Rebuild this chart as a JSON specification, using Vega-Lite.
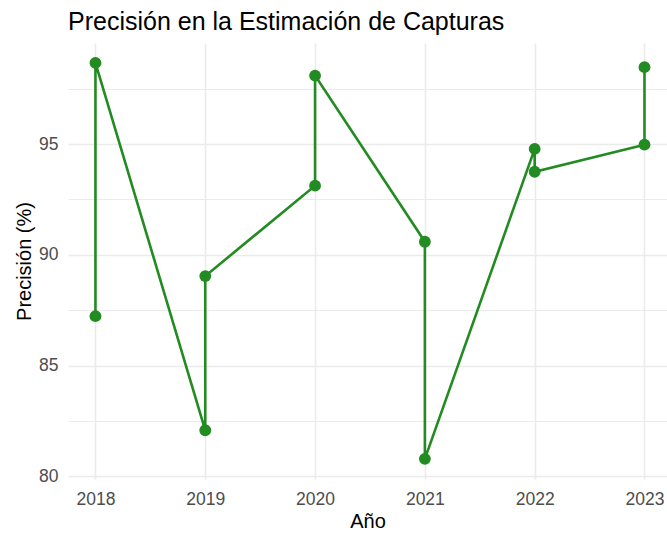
{
  "$schema": "https://vega.github.io/schema/vega-lite/v6.json",
  "autosize": {"type": "none"},
  "padding": {"left": 68, "top": 43, "right": 0, "bottom": 54},
  "width": 599,
  "height": 436,
  "background": "#ffffff",
  "title": {
    "text": "Precisión en la Estimación de Capturas",
    "anchor": "start",
    "frame": "group",
    "font": "Liberation Sans",
    "fontSize": 25,
    "fontWeight": "normal",
    "color": "#000000",
    "offset": 8
  },
  "config": {"view": {"stroke": null}, "font": "Liberation Sans"},
  "data": {
    "values": [
      {"anio": 2018, "precision": 87.23, "i": 1},
      {"anio": 2018, "precision": 98.66, "i": 2},
      {"anio": 2019, "precision": 82.08, "i": 3},
      {"anio": 2019, "precision": 89.04, "i": 4},
      {"anio": 2020, "precision": 93.12, "i": 5},
      {"anio": 2020, "precision": 98.09, "i": 6},
      {"anio": 2021, "precision": 90.59, "i": 7},
      {"anio": 2021, "precision": 80.79, "i": 8},
      {"anio": 2022, "precision": 94.78, "i": 9},
      {"anio": 2022, "precision": 93.75, "i": 10},
      {"anio": 2023, "precision": 94.97, "i": 11},
      {"anio": 2023, "precision": 98.47, "i": 12}
    ]
  },
  "encoding": {
    "x": {
      "field": "anio",
      "type": "quantitative",
      "scale": {"domain": [2017.75, 2023.205], "nice": false, "zero": false},
      "axis": {
        "title": "Año",
        "values": [2018, 2018.5, 2019, 2019.5, 2020, 2020.5, 2021, 2021.5, 2022, 2022.5, 2023],
        "format": "d",
        "labelExpr": "datum.value % 1 === 0 ? datum.label : ''",
        "labelFlush": false,
        "labelOverlap": false,
        "grid": true,
        "gridColor": "#EBEBEB",
        "gridWidth": {"condition": {"test": "datum.value % 1 === 0", "value": 1.6}, "value": 1.2},
        "domain": false,
        "ticks": false,
        "labelPadding": 11,
        "labelFont": "Liberation Sans",
        "labelFontSize": 17.5,
        "labelColor": "#4D4D4D",
        "titleFont": "Liberation Sans",
        "titleFontSize": 20,
        "titleFontWeight": "normal",
        "titleColor": "#000000",
        "titlePadding": 4
      }
    },
    "y": {
      "field": "precision",
      "type": "quantitative",
      "scale": {"domain": [79.88, 99.56], "nice": false, "zero": false},
      "axis": {
        "title": "Precisión (%)",
        "values": [80, 82.5, 85, 87.5, 90, 92.5, 95, 97.5],
        "labelExpr": "datum.value % 5 === 0 ? datum.label : ''",
        "labelOverlap": false,
        "labelFlush": false,
        "grid": true,
        "gridColor": "#EBEBEB",
        "gridWidth": {"condition": {"test": "datum.value % 5 === 0", "value": 1.6}, "value": 1.2},
        "domain": false,
        "ticks": false,
        "labelPadding": 10,
        "labelFont": "Liberation Sans",
        "labelFontSize": 17.5,
        "labelColor": "#4D4D4D",
        "titleFont": "Liberation Sans",
        "titleFontSize": 20,
        "titleFontWeight": "normal",
        "titleColor": "#000000",
        "titlePadding": 4
      }
    },
    "order": {"field": "i"}
  },
  "layer": [
    {"mark": {"type": "line", "color": "#228B22", "strokeWidth": 2.6}},
    {"mark": {"type": "circle", "color": "#228B22", "opacity": 1, "size": 140}}
  ]
}
